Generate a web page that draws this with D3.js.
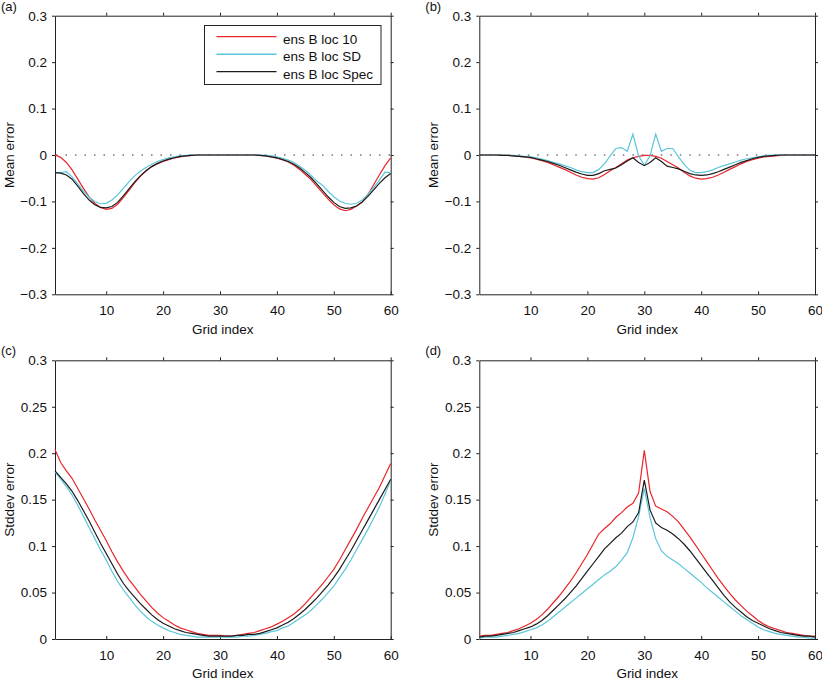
<!DOCTYPE html>
<html>
<head>
<meta charset="utf-8">
<script src="https://cdn.jsdelivr.net/npm/d3@7"></script>
<style>
body { margin: 0; background: #fff; }
svg { font-family: "Liberation Sans", Arial, sans-serif; }
.axis path, .axis line { stroke: #222; }
.axis text { font-size: 13.5px; fill: #111; font-family: "Liberation Sans", Arial, sans-serif; }
</style>
</head>
<body>
<svg width="822" height="681"></svg>
<script>
// grid index 1..60
const gridIndex = d3.range(1, 61);

const xTicks = [10, 20, 30, 40, 50, 60];
const meanTicks = [-0.3, -0.2, -0.1, 0, 0.1, 0.2, 0.3];
const meanTickLabels = ["\u22120.3", "\u22120.2", "\u22120.1", "0", "0.1", "0.2", "0.3"];
const sdTicks = [0, 0.05, 0.1, 0.15, 0.2, 0.25, 0.3];
const sdTickLabels = ["0", "0.05", "0.1", "0.15", "0.2", "0.25", "0.3"];

const seriesNames = ["ens B loc 10", "ens B loc SD", "ens B loc Spec"];
const seriesColors = ["#e8262b", "#5bc6da", "#1c1c1c"];

// (a) mean error
const meanA_loc10 = [0.000, -0.005, -0.016, -0.032, -0.052, -0.072, -0.090, -0.104, -0.113, -0.117,
    -0.115, -0.106, -0.092, -0.076, -0.060, -0.046, -0.034, -0.025, -0.019, -0.014,
    -0.010, -0.006, -0.004, -0.002, -0.001, 0, 0, 0, 0, 0,
    0, 0, 0, 0, 0, 0, -0.001, -0.002, -0.004, -0.007,
    -0.010, -0.015, -0.022, -0.031, -0.042, -0.053, -0.067, -0.081, -0.095, -0.107,
    -0.116, -0.120, -0.117, -0.110, -0.102, -0.085, -0.064, -0.043, -0.023, -0.006];
const meanA_locSD = [-0.038, -0.038, -0.036, -0.047, -0.062, -0.078, -0.091, -0.100, -0.105, -0.104,
    -0.097, -0.086, -0.072, -0.058, -0.045, -0.035, -0.027, -0.020, -0.014, -0.010,
    -0.006, -0.004, -0.002, -0.001, 0, 0, 0, 0, 0, 0,
    0, 0, 0, 0, 0, 0, 0, -0.001, -0.002, -0.004,
    -0.007, -0.011, -0.016, -0.024, -0.033, -0.044, -0.056, -0.065, -0.078, -0.090,
    -0.099, -0.104, -0.106, -0.104, -0.097, -0.085, -0.070, -0.054, -0.037, -0.038];
const meanA_locSpec = [-0.038, -0.039, -0.043, -0.052, -0.067, -0.083, -0.097, -0.107, -0.113, -0.114,
    -0.111, -0.102, -0.088, -0.073, -0.058, -0.045, -0.034, -0.025, -0.018, -0.013,
    -0.009, -0.006, -0.003, -0.002, -0.001, 0, 0, 0, 0, 0,
    0, 0, 0, 0, 0, 0, -0.001, -0.002, -0.004, -0.006,
    -0.010, -0.014, -0.020, -0.028, -0.038, -0.049, -0.062, -0.076, -0.090, -0.102,
    -0.111, -0.115, -0.114, -0.110, -0.101, -0.089, -0.075, -0.061, -0.049, -0.040];

// (b) mean error
const meanB_loc10 = [0, 0, 0, 0, -0.001, -0.001, -0.002, -0.003, -0.004, -0.006,
    -0.009, -0.012, -0.016, -0.021, -0.026, -0.031, -0.037, -0.043, -0.048, -0.051,
    -0.052, -0.049, -0.042, -0.034, -0.027, -0.019, -0.011, -0.006, -0.003, -0.001,
    -0.001, -0.003, -0.007, -0.014, -0.021, -0.028, -0.037, -0.045, -0.050, -0.052,
    -0.051, -0.048, -0.043, -0.037, -0.031, -0.025, -0.019, -0.014, -0.010, -0.007,
    -0.004, -0.003, -0.002, -0.001, 0, 0, 0, 0, 0, 0];
const meanB_locSD = [0, 0, 0, 0, 0, -0.001, -0.001, -0.002, -0.003, -0.004,
    -0.006, -0.009, -0.012, -0.016, -0.019, -0.023, -0.027, -0.032, -0.036, -0.038,
    -0.038, -0.031, -0.019, -0.002, 0.014, 0.016, 0.008, 0.045, -0.002, -0.022,
    -0.002, 0.045, 0.008, 0.014, 0.014, -0.004, -0.020, -0.033, -0.038, -0.038,
    -0.036, -0.032, -0.027, -0.023, -0.019, -0.015, -0.011, -0.008, -0.006, -0.004,
    -0.002, -0.001, 0, 0, 0, 0, 0, 0, 0, 0];
const meanB_locSpec = [0, 0, 0, 0, -0.001, -0.001, -0.002, -0.003, -0.004, -0.005,
    -0.008, -0.011, -0.014, -0.018, -0.022, -0.027, -0.032, -0.037, -0.041, -0.044,
    -0.044, -0.040, -0.034, -0.031, -0.028, -0.021, -0.013, -0.006, -0.016, -0.023,
    -0.016, -0.006, -0.014, -0.024, -0.027, -0.030, -0.035, -0.040, -0.043, -0.044,
    -0.043, -0.040, -0.036, -0.031, -0.026, -0.021, -0.016, -0.012, -0.008, -0.005,
    -0.003, -0.002, -0.001, 0, 0, 0, 0, 0, 0, 0];

// (c) stddev error
const sdC_loc10 = [0.204, 0.190, 0.181, 0.173, 0.162, 0.151, 0.140, 0.128, 0.117, 0.106,
    0.094, 0.083, 0.073, 0.064, 0.056, 0.048, 0.041, 0.034, 0.028, 0.023,
    0.019, 0.015, 0.012, 0.010, 0.008, 0.006, 0.005, 0.004, 0.004, 0.004,
    0.003, 0.003, 0.004, 0.005, 0.006, 0.007, 0.009, 0.011, 0.013, 0.016,
    0.019, 0.023, 0.027, 0.032, 0.038, 0.045, 0.052, 0.059, 0.067, 0.075,
    0.085, 0.096, 0.107, 0.118, 0.130, 0.141, 0.152, 0.163, 0.176, 0.189];
const sdC_locSD = [0.180, 0.172, 0.164, 0.155, 0.144, 0.132, 0.120, 0.108, 0.096, 0.085,
    0.073, 0.062, 0.053, 0.045, 0.037, 0.030, 0.024, 0.019, 0.015, 0.012,
    0.009, 0.007, 0.005, 0.004, 0.003, 0.002, 0.002, 0.002, 0.002, 0.002,
    0.002, 0.002, 0.002, 0.003, 0.003, 0.004, 0.005, 0.006, 0.008, 0.009,
    0.012, 0.014, 0.018, 0.022, 0.026, 0.031, 0.037, 0.043, 0.050, 0.057,
    0.066, 0.075, 0.085, 0.096, 0.107, 0.118, 0.130, 0.142, 0.156, 0.171];
const sdC_locSpec = [0.181, 0.174, 0.167, 0.159, 0.149, 0.138, 0.127, 0.115, 0.103, 0.092,
    0.081, 0.070, 0.060, 0.052, 0.045, 0.038, 0.032, 0.026, 0.021, 0.017,
    0.014, 0.011, 0.009, 0.007, 0.006, 0.005, 0.004, 0.003, 0.003, 0.003,
    0.003, 0.003, 0.004, 0.004, 0.005, 0.005, 0.006, 0.008, 0.010, 0.012,
    0.015, 0.018, 0.022, 0.027, 0.032, 0.038, 0.044, 0.051, 0.058, 0.066,
    0.075, 0.085, 0.095, 0.106, 0.117, 0.128, 0.139, 0.150, 0.161, 0.172];

// (d) stddev error
const sdD_loc10 = [0.003, 0.004, 0.004, 0.005, 0.006, 0.007, 0.009, 0.011, 0.014, 0.017,
    0.021, 0.026, 0.032, 0.039, 0.046, 0.054, 0.062, 0.071, 0.081, 0.091,
    0.102, 0.113, 0.119, 0.124, 0.131, 0.136, 0.142, 0.146, 0.157, 0.203,
    0.159, 0.143, 0.140, 0.137, 0.132, 0.126, 0.118, 0.110, 0.101, 0.092,
    0.083, 0.074, 0.065, 0.057, 0.049, 0.042, 0.036, 0.030, 0.025, 0.020,
    0.016, 0.013, 0.011, 0.009, 0.007, 0.006, 0.005, 0.004, 0.003, 0.003];
const sdD_locSD = [0.001, 0.002, 0.002, 0.002, 0.003, 0.004, 0.005, 0.006, 0.008, 0.010,
    0.012, 0.015, 0.019, 0.024, 0.029, 0.034, 0.039, 0.044, 0.049, 0.054,
    0.059, 0.064, 0.069, 0.073, 0.078, 0.085, 0.093, 0.109, 0.132, 0.162,
    0.131, 0.108, 0.095, 0.089, 0.085, 0.081, 0.076, 0.071, 0.066, 0.061,
    0.055, 0.050, 0.045, 0.040, 0.035, 0.030, 0.025, 0.021, 0.017, 0.013,
    0.010, 0.008, 0.006, 0.005, 0.004, 0.003, 0.002, 0.002, 0.001, 0.001];
const sdD_locSpec = [0.002, 0.003, 0.003, 0.004, 0.005, 0.006, 0.007, 0.009, 0.011, 0.013,
    0.016, 0.020, 0.025, 0.031, 0.037, 0.043, 0.050, 0.057, 0.065, 0.073,
    0.081, 0.089, 0.097, 0.103, 0.109, 0.114, 0.121, 0.126, 0.136, 0.171,
    0.139, 0.125, 0.120, 0.117, 0.113, 0.108, 0.102, 0.095, 0.087, 0.079,
    0.071, 0.063, 0.055, 0.047, 0.040, 0.034, 0.029, 0.024, 0.020, 0.017,
    0.014, 0.011, 0.009, 0.007, 0.006, 0.005, 0.004, 0.003, 0.003, 0.002];

let svg = d3.select("svg");
svg.append("rect").attr("width", 822).attr("height", 681).attr("fill", "#fff");

const panels = [
    {tag: "(a)", left: 55, right: 390.7, top: 15.7, bottom: 294.3, yDomain: [-0.3, 0.3],
        yTicks: meanTicks, yLabels: meanTickLabels, yTitle: "Mean error", zero: true, legend: true,
        series: [meanA_loc10, meanA_locSD, meanA_locSpec]},
    {tag: "(b)", left: 479.3, right: 815, top: 15.7, bottom: 294.3, yDomain: [-0.3, 0.3],
        yTicks: meanTicks, yLabels: meanTickLabels, yTitle: "Mean error", zero: true,
        series: [meanB_loc10, meanB_locSD, meanB_locSpec]},
    {tag: "(c)", left: 55, right: 390.7, top: 360.3, bottom: 639, yDomain: [0, 0.3],
        yTicks: sdTicks, yLabels: sdTickLabels, yTitle: "Stddev error",
        series: [sdC_loc10, sdC_locSD, sdC_locSpec]},
    {tag: "(d)", left: 479.3, right: 815, top: 360.3, bottom: 639, yDomain: [0, 0.3],
        yTicks: sdTicks, yLabels: sdTickLabels, yTitle: "Stddev error",
        series: [sdD_loc10, sdD_locSD, sdD_locSpec]}
];

panels.forEach(p => {
    let w = p.right - p.left,
        h = p.bottom - p.top,
        g = svg.append("g").attr("transform", "translate(" + p.left + "," + p.top + ")");

    let x = d3.scaleLinear().domain([1, 60]).range([0, w]);
    let y = d3.scaleLinear().domain(p.yDomain).range([h, 0]);

    if (p.zero) {
        g.append("line")
            .attr("x1", x(1) + 1).attr("x2", x(60))
            .attr("y1", y(0)).attr("y2", y(0))
            .attr("stroke", "#777")
            .attr("stroke-width", 1.3)
            .attr("stroke-dasharray", "1.5 8");
    }

    g.append("g")
        .attr("class", "axis")
        .attr("transform", "translate(0," + h + ")")
        .call(d3.axisBottom(x).tickValues(xTicks).tickSize(-3).tickSizeOuter(0).tickPadding(11));

    g.append("g")
        .attr("class", "axis")
        .call(d3.axisTop(x).tickValues(xTicks).tickSize(3).tickSizeOuter(0).tickFormat(""));

    g.append("g")
        .attr("class", "axis")
        .call(d3.axisLeft(y).tickValues(p.yTicks).tickSize(3).tickSizeOuter(0).tickPadding(5)
            .tickFormat((d, i) => p.yLabels[i]));

    g.append("g")
        .attr("class", "axis")
        .attr("transform", "translate(" + w + ",0)")
        .call(d3.axisRight(y).tickValues(p.yTicks).tickSize(3).tickSizeOuter(0).tickFormat(""));

    let line = d3.line()
        .x((d, i) => x(gridIndex[i]))
        .y(d => y(d));

    g.selectAll(".serie")
        .data(p.series)
        .enter().append("path")
        .attr("class", "serie")
        .attr("fill", "none")
        .attr("stroke", (d, i) => seriesColors[i])
        .attr("stroke-width", 1.2)
        .attr("d", line);

    g.append("text")
        .attr("x", w / 2)
        .attr("y", h + 39.5)
        .attr("text-anchor", "middle")
        .style("font-size", "13.5px")
        .attr("fill", "#111")
        .text("Grid index");

    g.append("text")
        .attr("transform", "translate(" + (-41.3) + "," + (h / 2) + ") rotate(-90)")
        .attr("text-anchor", "middle")
        .style("font-size", "13.5px")
        .attr("fill", "#111")
        .text(p.yTitle);

    svg.append("text")
        .attr("x", p.left - 54)
        .attr("y", p.top - 5)
        .style("font-size", "13px")
        .attr("fill", "#111")
        .text(p.tag);

    if (p.legend) {
        let lg = svg.append("g").attr("transform", "translate(204.5,25.5)");
        lg.append("rect")
            .attr("width", 176.5).attr("height", 59)
            .attr("fill", "#fff").attr("stroke", "#222");
        seriesNames.forEach((name, i) => {
            lg.append("line")
                .attr("x1", 12).attr("x2", 72)
                .attr("y1", 11.2 + i * 17.5).attr("y2", 11.2 + i * 17.5)
                .attr("stroke", seriesColors[i])
                .attr("stroke-width", i === 1 ? 1.6 : 1.2);
            lg.append("text")
                .attr("x", 78.5)
                .attr("y", 18 + i * 17.5)
                .style("font-size", "13.5px")
                .attr("fill", "#111")
                .text(name);
        });
    }
});
</script>
</body>
</html>
